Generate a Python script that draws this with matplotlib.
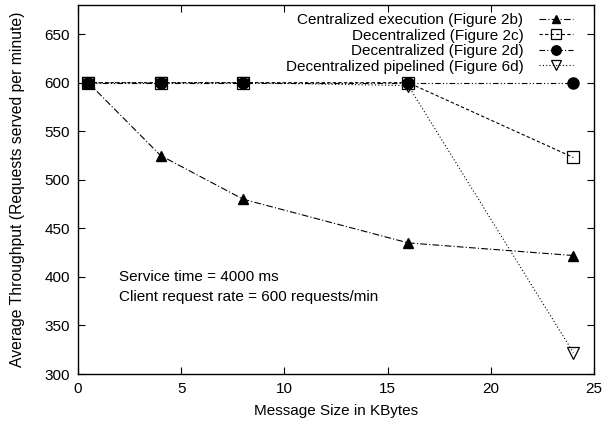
import matplotlib
matplotlib.use("Agg")
import matplotlib.pyplot as plt

plt.rcParams["font.family"] = ["Liberation Sans", "DejaVu Sans"]
plt.rcParams["font.size"] = 11

msg_size = [0.5, 4, 8, 16, 24]

centralized = [600, 525, 480, 435, 422]
decentral_2c = [600, 600, 600, 600, 523]
decentral_2d = [600, 600, 600, 600, 600]
pipelined_6d = [600, 600, 600, 597, 322]

labels = [
    "Centralized execution (Figure 2b)",
    "Decentralized (Figure 2c)",
    "Decentralized (Figure 2d)",
    "Decentralized pipelined (Figure 6d)",
]

fig = plt.figure(figsize=(6.05, 4.25), dpi=100)
ax = fig.add_axes([78 / 605, 51 / 425, 516 / 605, 369 / 425])

ax.plot(msg_size, centralized, color="black", lw=0.8,
        linestyle=(0, (6, 2, 1, 2)), marker="^", markersize=7,
        markerfacecolor="black", label=labels[0])
ax.plot(msg_size, decentral_2c, color="black", lw=0.8,
        linestyle=(0, (3, 2)), marker="s", markersize=8,
        markerfacecolor="none", markeredgewidth=0.9, label=labels[1])
ax.plot(msg_size, decentral_2d, color="black", lw=0.8,
        linestyle=(0, (5, 2, 1, 2, 1, 2)), marker="o", markersize=8,
        markerfacecolor="black", label=labels[2])
ax.plot(msg_size, pipelined_6d, color="black", lw=0.8,
        linestyle=(0, (1, 2)), marker="v", markersize=8,
        markerfacecolor="none", markeredgewidth=0.9, label=labels[3])

ax.set_xlim(0, 25)
ax.set_ylim(300, 680)
ax.set_xticks([0, 5, 10, 15, 20, 25])
ax.set_yticks([300, 350, 400, 450, 500, 550, 600, 650])
ax.tick_params(direction="in", top=True, right=True, length=5, width=0.8,
               pad=6)
for s in ax.spines.values():
    s.set_linewidth(1.0)

ax.set_xlabel("Message Size in KBytes", va="center")
ax.xaxis.set_label_coords(0.5, -0.10)
ax.set_ylabel("Average Throughput (Requests served per minute)",
              fontsize=11.3, va="center")
ax.yaxis.set_label_coords(-0.118, 0.5)

ax.text(2.0, 400, "Service time = 4000 ms", va="center")
ax.text(2.0, 379, "Client request rate = 600 requests/min", va="center")

leg = ax.legend(loc="upper right", bbox_to_anchor=(495 / 516, 361 / 369),
                frameon=False, markerfirst=False, handlelength=2.2,
                borderpad=0, borderaxespad=0, labelspacing=0.1,
                handletextpad=1.05, markerscale=0.85)
for t in leg.get_texts():
    t.set_ha("right")

fig.savefig("out.png", dpi=100)
